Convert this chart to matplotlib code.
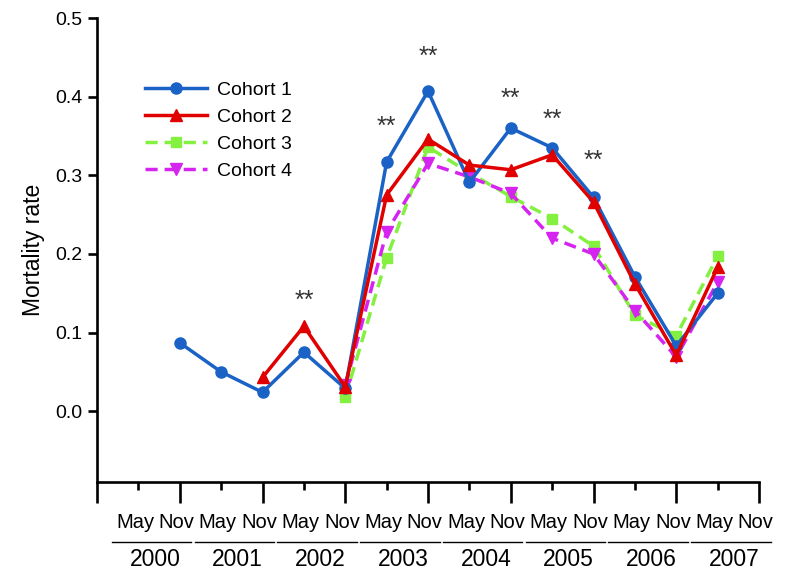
import numpy as np
import matplotlib
matplotlib.use("Agg")
import matplotlib.pyplot as plt
import matplotlib.transforms as mtransforms

plt.rcParams['font.family'] = ['Liberation Sans', 'DejaVu Sans']

# half-year positions: 1 = May 2000, 2 = Nov 2000, ... 16 = Nov 2007
years = ["2000", "2001", "2002", "2003", "2004", "2005", "2006", "2007"]
months = ["May", "Nov"]

pos1 = [2, 3, 4, 5, 6, 7, 8, 9, 10, 11, 12, 13, 14, 15]
cohort1 = [0.087, 0.050, 0.024, 0.075, 0.029, 0.317, 0.407, 0.291, 0.360, 0.335, 0.272, 0.171, 0.083, 0.150]
pos2 = [4, 5, 6, 7, 8, 9, 10, 11, 12, 13, 14, 15]
cohort2 = [0.043, 0.108, 0.031, 0.275, 0.346, 0.313, 0.307, 0.326, 0.266, 0.162, 0.071, 0.183]
pos3 = [6, 7, 8, 9, 10, 11, 12, 13, 14, 15]
cohort3 = [0.018, 0.195, 0.336, 0.303, 0.273, 0.245, 0.210, 0.122, 0.096, 0.197]
pos4 = [6, 7, 8, 9, 10, 11, 12, 13, 14, 15]
cohort4 = [0.033, 0.228, 0.315, 0.298, 0.277, 0.220, 0.200, 0.128, 0.069, 0.164]

# significance marks
sig_pos = [5, 7, 8, 10, 11, 12]
sig_y = [0.140, 0.361, 0.450, 0.397, 0.370, 0.318]

fig = plt.figure(figsize=(7.85, 5.70), dpi=100)
ax = fig.add_axes([0.1236, 0.1544, 0.8433, 0.814])

ax.plot(pos1, cohort1, color="#1a62c6", lw=2.5, marker="o", ms=8, label="Cohort 1", zorder=4)
ax.plot(pos2, cohort2, color="#e00000", lw=2.5, marker="^", ms=8.5, label="Cohort 2", zorder=5)
ax.plot(pos3, cohort3, color="#84f040", lw=2.5, marker="s", ms=7.5, dashes=(3.5, 2),
        label="Cohort 3", zorder=3)
ax.plot(pos4, cohort4, color="#d624f0", lw=2.5, marker="v", ms=8.5, dashes=(3.5, 2),
        label="Cohort 4", zorder=3)

for x, y in zip(sig_pos, sig_y):
    ax.text(x, y, "**", ha="center", va="center", fontsize=18, color="#333333")

ax.set_xlim(0, 16)
ax.set_ylim(-0.09, 0.5)
ax.set_yticks([0.0, 0.1, 0.2, 0.3, 0.4, 0.5])
ax.set_yticklabels(["0.0", "0.1", "0.2", "0.3", "0.4", "0.5"], fontsize=14)
ax.set_ylabel("Mortality rate", fontsize=16.5, labelpad=7)

ax.spines["top"].set_visible(False)
ax.spines["right"].set_visible(False)
ax.spines["left"].set_linewidth(1.9)
ax.spines["bottom"].set_linewidth(1.9)
ax.tick_params(axis="y", direction="out", length=6.5, width=1.9, pad=4)

ax.set_xticks(np.arange(0, 17, 2))
ax.set_xticks(np.arange(1, 16, 2), minor=True)
ax.set_xticklabels([])
ax.tick_params(axis="x", which="major", direction="out", length=15, width=1.9)
ax.tick_params(axis="x", which="minor", direction="out", length=6, width=1.9)

# month / year labels under the axis
trans = mtransforms.blended_transform_factory(ax.transData, ax.transAxes)
for i, yr in enumerate(years):
    for j, m in enumerate(months):
        ax.text(2 * i + 1 + j - 0.08, -0.088, m, transform=trans, ha="center", va="center",
                fontsize=14.5, clip_on=False)
    ax.plot([2 * i + 0.36, 2 * i + 2.28], [-0.129, -0.129], transform=trans, color="black",
            lw=1.0, clip_on=False)
    ax.text(2 * i + 1.4, -0.166, yr, transform=trans, ha="center", va="center",
            fontsize=16.5, clip_on=False)

ax.legend(loc="upper left", bbox_to_anchor=(0.072, 0.864), frameon=False, fontsize=14,
          handlelength=3.2, handletextpad=0.5, labelspacing=0.49, borderpad=0, borderaxespad=0)

fig.savefig("out.png", dpi=100)
